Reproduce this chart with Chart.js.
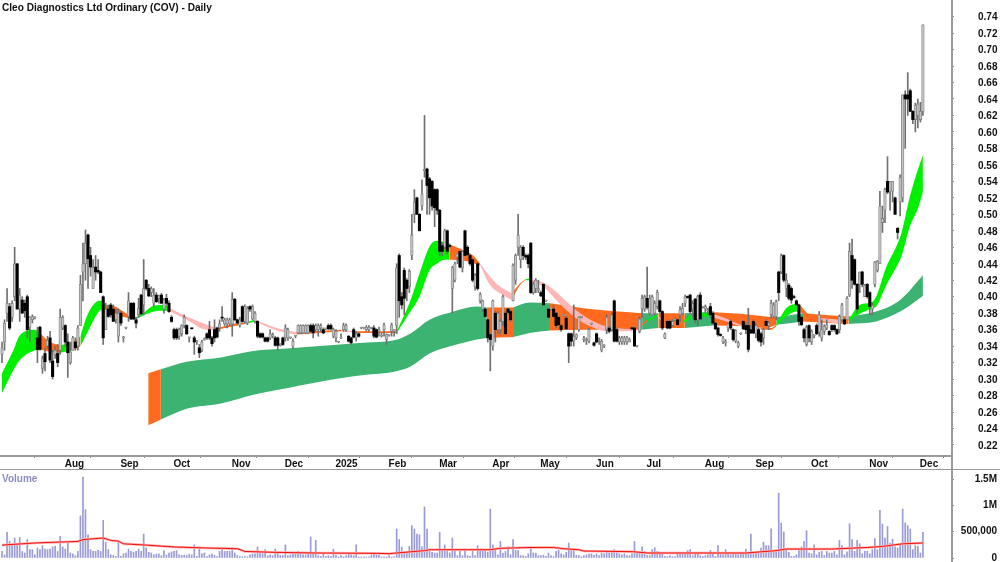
<!DOCTYPE html>
<html><head><meta charset="utf-8">
<style>
html,body{margin:0;padding:0;background:#fff;width:1000px;height:562px;overflow:hidden}
canvas{position:absolute;left:0;display:block}
.rule{position:absolute;background:#9a9a9a}
</style>
<script src="https://cdn.jsdelivr.net/npm/chart.js@4/dist/chart.umd.min.js"></script>
</head><body>
<canvas id="price" width="1000" height="470" style="top:0"></canvas>
<canvas id="vol" width="1000" height="94" style="top:470px"></canvas>
<div class="rule" style="left:951px;top:0;width:1.5px;height:562px"></div>
<div class="rule" style="left:0;top:455px;width:951px;height:1.5px"></div>
<div class="rule" style="left:0;top:468.5px;width:1000px;height:1.5px"></div>
<script>
const titleText="Cleo Diagnostics Ltd Ordinary (COV) - Daily";
const monthIdx=[24,46,67,90,111,131,152,172,193,212,234,254,277,297,319,342,362];
const monthNames=["Aug","Sep","Oct","Nov","Dec","2025","Feb","Mar","Apr","May","Jun","Jul","Aug","Sep","Oct","Nov","Dec"];
const priceTicks=[.22,.24,.26,.28,.30,.32,.34,.36,.38,.40,.42,.44,.46,.48,.50,.52,.54,.56,.58,.60,.62,.64,.66,.68,.70,.72,.74];
const volumeTicks=[0,500000,1000000,1500000];
const opens=[
.33,.345,.38,.388,.375,.40,.44,.385,.396,.392,
.40,.363,.372,.374,.35,.363,.313,.331,.34,.35,
.322,.33,.331,.335,.362,.365,.345,.32,.335,.345,
.34,.365,.43,.44,.475,.45,.41,.436,.432,.43,
.40,.36,.385,.39,.385,.372,.352,.38,.35,.362,
.376,.392,.392,.372,.378,.402,.39,.42,.41,.405,
.392,.402,.398,.402,.385,.398,.392,.375,.36,.36,
.352,.355,.365,.365,.35,.362,.35,.345,.338,.335,
.348,.355,.36,.35,.36,.362,.362,.375,.367,.367,
.367,.367,.397,.372,.365,.388,.37,.368,.388,.373,
.37,.37,.355,.355,.35,.35,.35,.352,.35,.35,
.341,.35,.35,.35,.35,.34,.352,.356,.356,.356,
.356,.356,.365,.365,.36,.36,.362,.36,.361,.365,
.365,.352,.35,.345,.35,.36,.36,.352,.35,.36,
.35,.355,.362,.362,.36,.36,.362,.362,.36,.358,
.352,.36,.348,.353,.358,.358,.365,.45,.40,.432,
.42,.412,.45,.50,.52,.50,.51,.553,.555,.543,
.54,.53,.53,.505,.462,.46,.48,.462,.41,.42,
.448,.455,.435,.48,.46,.45,.445,.412,.44,.395,
.385,.385,.372,.354,.34,.38,.36,.36,.37,.38,
.385,.382,.395,.42,.46,.445,.46,.45,.45,.465,
.405,.41,.408,.405,.415,.395,.385,.385,.385,.38,
.375,.365,.377,.374,.355,.355,.346,.35,.36,.375,
.348,.347,.346,.367,.344,.355,.348,.335,.34,.36,
.362,.36,.395,.36,.345,.345,.345,.345,.345,.362,
.362,.34,.358,.385,.385,.398,.38,.378,.38,.388,
.395,.382,.35,.37,.37,.365,.372,.372,.378,.38,
.392,.40,.402,.385,.397,.372,.402,.387,.385,.383,
.388,.38,.368,.362,.354,.345,.344,.362,.37,.36,
.346,.34,.355,.37,.365,.365,.36,.37,.355,.36,
.355,.35,.37,.365,.378,.376,.376,.43,.43,.45,
.41,.414,.41,.40,.395,.39,.375,.36,.342,.365,
.345,.352,.365,.357,.35,.358,.362,.358,.365,.365,
.36,.36,.372,.372,.372,.402,.45,.445,.415,.415,
.43,.40,.415,.405,.385,.415,.432,.44,.49,.505,
.54,.528,.528,.52,.483,.515,.52,.645,.645,.65,
.625,.615,.62,.615,.625];
const highs=[
.345,.372,.41,.392,.395,.46,.44,.41,.40,.396,
.402,.376,.378,.376,.363,.364,.328,.338,.352,.358,
.335,.34,.342,.385,.377,.366,.355,.345,.352,.35,
.365,.426,.465,.481,.476,.46,.445,.45,.445,.431,
.401,.392,.39,.392,.39,.385,.385,.382,.352,.363,
.405,.393,.393,.375,.398,.403,.445,.421,.415,.412,
.41,.405,.402,.404,.398,.403,.395,.377,.362,.362,
.362,.366,.378,.366,.351,.362,.352,.347,.342,.347,
.35,.356,.37,.352,.372,.363,.372,.388,.374,.374,
.374,.405,.398,.373,.375,.389,.39,.388,.389,.39,
.382,.371,.356,.356,.351,.351,.36,.356,.352,.351,
.343,.351,.366,.362,.351,.349,.353,.366,.366,.366,
.366,.366,.367,.367,.367,.367,.367,.362,.362,.367,
.367,.362,.36,.346,.355,.368,.367,.353,.351,.362,
.358,.356,.363,.363,.365,.365,.363,.365,.361,.363,
.356,.368,.355,.354,.368,.36,.44,.452,.405,.435,
.422,.433,.50,.53,.521,.501,.542,.62,.556,.545,
.541,.531,.531,.506,.465,.482,.481,.464,.437,.442,
.452,.456,.456,.481,.462,.451,.446,.428,.441,.405,
.396,.386,.373,.355,.396,.382,.382,.372,.402,.382,
.386,.384,.44,.452,.50,.462,.462,.452,.452,.466,
.418,.422,.42,.407,.416,.396,.386,.386,.39,.381,
.376,.366,.378,.376,.356,.356,.39,.355,.376,.376,
.352,.35,.362,.368,.345,.356,.35,.348,.342,.378,
.364,.38,.396,.362,.352,.352,.352,.352,.35,.363,
.363,.341,.376,.402,.402,.436,.402,.402,.395,.408,
.396,.383,.356,.372,.372,.372,.374,.373,.388,.392,
.402,.401,.403,.395,.398,.402,.405,.388,.39,.386,
.392,.382,.369,.363,.355,.352,.348,.368,.372,.361,
.36,.346,.356,.371,.368,.386,.365,.372,.368,.362,
.357,.362,.372,.37,.396,.393,.396,.431,.452,.451,
.428,.416,.412,.402,.396,.391,.376,.362,.365,.366,
.36,.354,.367,.382,.372,.366,.372,.359,.366,.366,
.361,.378,.392,.373,.40,.465,.47,.446,.416,.43,
.431,.415,.416,.406,.392,.443,.444,.528,.51,.532,
.57,.54,.54,.521,.484,.548,.645,.65,.672,.652,
.626,.635,.64,.636,.73];
const lows=[
.32,.335,.37,.36,.37,.395,.385,.37,.38,.375,
.35,.345,.368,.373,.32,.335,.307,.31,.337,.32,
.30,.325,.315,.33,.36,.34,.302,.318,.335,.335,
.335,.365,.395,.42,.41,.425,.41,.42,.428,.405,
.342,.36,.375,.375,.37,.368,.345,.365,.345,.361,
.37,.372,.372,.362,.375,.378,.378,.408,.40,.40,
.388,.393,.392,.392,.38,.39,.381,.369,.348,.348,
.348,.352,.362,.354,.345,.361,.33,.342,.326,.333,
.347,.348,.348,.34,.345,.35,.358,.37,.365,.362,
.365,.352,.371,.367,.363,.369,.368,.366,.382,.372,
.368,.35,.35,.35,.345,.345,.348,.35,.34,.335,
.34,.341,.346,.347,.349,.337,.35,.355,.355,.355,
.355,.355,.357,.35,.358,.352,.358,.355,.36,.36,
.36,.35,.345,.344,.349,.358,.358,.345,.342,.35,
.346,.351,.361,.361,.358,.358,.361,.35,.35,.352,
.351,.352,.342,.352,.352,.352,.355,.375,.385,.378,
.395,.405,.445,.49,.50,.48,.505,.545,.50,.50,
.505,.485,.50,.45,.45,.458,.452,.46,.38,.418,
.44,.435,.43,.45,.45,.438,.418,.408,.408,.392,
.382,.375,.345,.31,.335,.345,.355,.355,.365,.355,
.38,.37,.395,.415,.45,.435,.445,.445,.435,.404,
.403,.405,.405,.40,.39,.394,.375,.384,.375,.362,
.365,.358,.376,.36,.32,.34,.34,.348,.358,.374,
.345,.342,.344,.366,.34,.344,.342,.333,.338,.355,
.356,.358,.345,.345,.342,.342,.342,.342,.345,.36,
.34,.339,.356,.375,.382,.385,.378,.378,.378,.385,
.38,.36,.349,.361,.361,.364,.371,.365,.37,.378,
.388,.398,.38,.375,.368,.365,.372,.386,.38,.378,
.375,.366,.36,.352,.352,.343,.34,.358,.36,.346,
.344,.338,.354,.36,.355,.333,.355,.355,.35,.345,
.34,.342,.365,.36,.374,.374,.372,.395,.428,.418,
.40,.396,.392,.398,.39,.365,.365,.345,.34,.345,
.342,.35,.354,.352,.346,.354,.36,.353,.358,.358,
.354,.356,.37,.366,.372,.40,.41,.414,.38,.405,
.412,.40,.398,.378,.378,.412,.43,.44,.478,.49,
.525,.505,.515,.50,.47,.498,.515,.58,.62,.625,
.61,.60,.605,.612,.62];
const closes=[
.338,.368,.392,.362,.392,.44,.385,.402,.38,.383,
.36,.375,.376,.375,.336,.336,.325,.321,.347,.323,
.303,.335,.32,.375,.375,.345,.332,.333,.35,.338,
.362,.415,.44,.465,.446,.436,.435,.43,.43,.405,
.35,.385,.376,.378,.37,.38,.38,.368,.35,.362,
.395,.373,.373,.368,.386,.379,.41,.41,.401,.41,
.402,.394,.401,.392,.396,.392,.382,.37,.35,.35,
.36,.365,.375,.355,.35,.361,.345,.345,.332,.345,
.349,.35,.35,.343,.35,.351,.367,.374,.372,.372,
.372,.397,.372,.368,.372,.37,.388,.386,.385,.388,
.38,.352,.351,.351,.346,.346,.355,.354,.341,.341,
.342,.342,.362,.36,.35,.346,.352,.365,.365,.365,
.365,.365,.358,.356,.365,.365,.365,.356,.361,.361,
.361,.36,.358,.345,.35,.365,.365,.346,.344,.351,
.355,.352,.362,.362,.363,.363,.362,.352,.351,.36,
.352,.366,.354,.353,.366,.36,.435,.395,.39,.398,
.41,.431,.475,.515,.50,.48,.525,.555,.535,.52,
.51,.508,.505,.455,.455,.48,.455,.461,.435,.44,
.452,.436,.455,.45,.451,.44,.42,.426,.41,.403,
.395,.376,.35,.348,.395,.36,.38,.37,.40,.355,
.381,.372,.438,.45,.475,.46,.45,.448,.44,.405,
.415,.42,.41,.401,.39,.395,.375,.385,.376,.365,
.366,.36,.377,.361,.34,.346,.352,.354,.375,.375,
.35,.347,.36,.367,.341,.345,.348,.346,.341,.375,
.358,.378,.346,.346,.35,.35,.35,.35,.348,.361,
.34,.34,.373,.398,.40,.387,.398,.40,.392,.405,
.382,.362,.355,.362,.362,.37,.372,.366,.384,.386,
.40,.399,.382,.392,.372,.40,.373,.387,.388,.384,
.378,.368,.361,.354,.353,.35,.344,.367,.362,.348,
.359,.344,.355,.361,.36,.336,.356,.356,.365,.347,
.345,.36,.365,.368,.392,.39,.394,.405,.45,.42,
.42,.398,.396,.399,.39,.37,.366,.35,.363,.35,
.358,.352,.355,.378,.36,.364,.366,.354,.36,.36,
.355,.376,.39,.367,.398,.455,.42,.415,.385,.43,
.415,.414,.40,.388,.39,.442,.443,.51,.495,.53,
.527,.54,.54,.50,.478,.545,.645,.64,.64,.625,
.615,.632,.634,.625,.73];
const volumeK=[
125,60,490,315,250,380,270,390,125,95,
350,160,160,60,190,160,235,170,160,170,
210,220,125,410,210,170,300,95,80,45,
125,800,1540,920,440,160,125,125,145,125,
715,300,160,60,50,30,300,30,80,95,
170,125,110,125,170,125,455,190,110,95,
60,75,80,45,140,60,95,115,125,140,
60,50,50,45,75,60,250,30,210,80,
95,25,60,75,50,25,125,160,125,125,
125,190,95,45,25,20,25,20,60,75,
80,210,110,80,160,45,60,45,170,125,
50,45,250,45,60,80,75,125,80,60,
60,80,400,80,335,45,30,95,30,45,
30,170,50,20,45,25,45,95,60,45,
250,20,20,20,20,20,60,80,60,55,
20,20,20,45,20,20,550,350,210,125,
115,220,615,550,455,440,210,970,550,160,
110,95,95,490,160,250,125,95,380,125,
45,160,45,170,45,30,125,45,235,170,
160,125,110,930,250,170,60,315,95,125,
210,60,350,145,140,45,45,30,80,190,
95,95,45,45,55,30,95,45,25,125,
145,80,60,110,285,160,140,50,45,25,
45,60,75,80,50,75,45,95,80,110,
95,140,160,95,80,60,80,45,45,80,
315,95,110,210,125,45,45,160,195,125,
110,95,30,25,45,25,25,80,80,80,
95,140,160,45,80,110,45,30,45,60,
145,95,30,235,95,60,160,95,60,110,
80,60,75,75,170,95,455,125,115,125,
190,300,235,235,555,125,160,1235,665,495,
160,110,30,30,60,140,210,315,520,95,
80,250,60,110,125,45,125,95,95,125,
60,335,235,60,115,650,350,125,335,270,
80,130,130,80,160,370,160,905,645,380,
600,285,360,210,190,250,930,665,615,550,
160,235,220,95,490];
const maX=[0,13,19,30,32,40,43,46,48,57,68,81,93,96,108,124,148,153,156,167,169,193,197,208.7,218,222,228,230,249.5,255,278.5,294,306,310,328,342,348,356,364];
const maK=[245,285,297,315,350,380,335,320,270,245,210,190,177,125,107,95,88,82,95,140,158,158,184,200,200,177,158,133,120,95,95,95,140,170,170,200,220,270,285];
const fastX=[0,4.5,7,13,15,19,23,28,31,33.5,37.4,39,41,44.7,50,53,55,60,64.4,66.4,73,81,85,91.4,96,100,108.6,116.3,134,140,156,161,165,169,171.8,175,177,182,186.2,189,193,197,201.5,204.7,206.7,208.4,214,219,226,232.5,239,250,255,259,261,269,275,280,285,292,300,304,306,310,314,315.5,319,323,331,334.6,339,344,345.5,349.5,353.5,355.5,358.8,362,364];
const fastTop=[.307,.335,.353,.36,.356,.345,.341,.345,.352,.376,.394,.395,.39,.388,.378,.375,.378,.389,.39,.386,.376,.366,.362,.367,.369,.372,.362,.357,.36,.358,.358,.392,.428,.461,.468,.466,.463,.457,.45,.44,.424,.412,.404,.416,.421,.422,.417,.406,.386,.372,.364,.36,.372,.378,.372,.37,.381,.38,.375,.366,.362,.362,.366,.386,.391,.39,.378,.374,.372,.372,.39,.394,.40,.436,.461,.477,.521,.554,.572];
const fastBot=[.283,.311,.323,.335,.336,.333,.332,.335,.34,.355,.378,.384,.38,.378,.374,.373,.376,.382,.383,.382,.372,.36,.36,.364,.367,.37,.359,.354,.358,.356,.356,.38,.40,.432,.44,.445,.445,.444,.441,.438,.414,.404,.396,.414,.42,.42,.412,.396,.376,.364,.358,.358,.37,.376,.37,.368,.376,.376,.371,.364,.36,.36,.364,.376,.382,.381,.376,.371,.367,.37,.379,.386,.388,.414,.436,.449,.485,.507,.527];
const fastCode="GGGGOOGOGGGGOOOGGGGPPPOOGPPOPOGGGGGGOOOPPPOOGPPPPPPOGPOGGPPPOOGGGOOPOGGGGGGGGGG";
const slowX=[57.8,62.8,73,86,99.3,112.5,133.6,143,155,161.3,169,178.5,187.6,191.6,202,208.6,216.6,229.8,248,253,259.4,269.9,281,293,302,306,316.6,334.6,345.5,355,364];
const slowTop=[.307,.312,.321,.326,.334,.337,.342,.344,.347,.355,.372,.382,.388,.387,.387,.393,.392,.386,.381,.38,.38,.38,.381,.379,.376,.375,.38,.376,.382,.396,.426];
const slowBot=[.244,.251,.264,.27,.281,.289,.301,.305,.309,.315,.331,.341,.348,.35,.351,.356,.359,.36,.36,.36,.362,.362,.365,.364,.362,.366,.37,.367,.37,.382,.401];
const slowCode="OGGGGGGGGGGGGOGGOOOGOGOOOGOGGGG";

const PALETTE={G:'#00f000',O:'#ff6a1f',P:'#ffb6b6',S:'#3cb371'};
const FONT={family:'"Liberation Sans",Arial,sans-serif',size:10,weight:'bold'};

function bandSets(xs,top,bot,codes,map,order){
  const out=[];let s=0;
  for(let k=1;k<xs.length;k++){
    if(k===xs.length-1||codes[k]!==codes[s]){
      const c=map(codes[s]);
      const up=[],dn=[];
      for(let j=s;j<=k;j++){up.push({x:xs[j],y:top[j]});dn.push({x:xs[j],y:bot[j]});}
      out.push({type:'line',data:up,borderWidth:0,pointRadius:0,backgroundColor:c,fill:'+1',order:order,cubicInterpolationMode:'monotone'});
      out.push({type:'line',data:dn,borderWidth:0,pointRadius:0,fill:false,order:order,cubicInterpolationMode:'monotone'});
      s=k;
    }
  }
  return out;
}
const xMax=(951-2)/2.53;
const wicks=highs.map((h,i)=>({x:i,y:[lows[i],h]}));
const upBodies=[],dnBodies=[];
opens.forEach((o,i)=>{(closes[i]>=o?upBodies:dnBodies).push({x:i,y:[o,closes[i]]});});

new Chart(document.getElementById('price'),{
  type:'bar',
  data:{datasets:[
    ...bandSets(slowX,slowTop,slowBot,slowCode,c=>c==='G'?PALETTE.S:PALETTE.O,9),
    ...bandSets(fastX,fastTop,fastBot,fastCode,c=>PALETTE[c],8),
    {type:'bar',data:wicks,barThickness:1,backgroundColor:'#707070',grouped:false,order:3,clip:false},
    {type:'bar',data:upBodies,barThickness:2.6,backgroundColor:'#c4c4c4',borderColor:'#808080',borderWidth:0.8,borderSkipped:false,grouped:false,order:2,minBarLength:1,clip:false},
    {type:'bar',data:dnBodies,barThickness:2.4,backgroundColor:'#000000',grouped:false,order:1,minBarLength:1,clip:false}
  ]},
  options:{
    responsive:false,animation:false,events:[],
    layout:{padding:{left:2,right:0,top:0,bottom:0}},
    plugins:{
      legend:{display:false},tooltip:{enabled:false},
      title:{display:true,text:titleText,align:'start',color:'#111',font:{...FONT,size:10.1},padding:{top:2,bottom:-14}}
    },
    scales:{
      x:{type:'linear',min:0,max:xMax,offset:false,
        grid:{drawOnChartArea:false,drawTicks:true,tickLength:3,color:'#888'},border:{display:false},
        afterBuildTicks:s=>{s.ticks=monthIdx.map(v=>({value:v}));},
        afterFit:s=>{s.height=15;s.paddingLeft=0;s.paddingRight=0;},
        ticks:{autoSkip:false,maxRotation:0,align:'start',labelOffset:2,padding:0,color:'#111',font:FONT,
          callback:v=>monthNames[monthIdx.indexOf(v)]}},
      y:{position:'right',min:.74-(455-16.5)/824,max:.74+16.5/824,
        grid:{drawOnChartArea:false,tickLength:3,color:'#888'},border:{display:false},
        afterBuildTicks:s=>{s.ticks=priceTicks.map(v=>({value:v}));},
        afterFit:s=>{s.width=49;s.paddingTop=0;s.paddingBottom=0;},
        ticks:{autoSkip:false,padding:24,labelOffset:1,color:'#111',font:FONT,callback:v=>v.toFixed(2)}}
    }
  }
});

const volBars=volumeK.map((v,i)=>({x:i,y:v*1000}));
const maLine=maX.map((x,i)=>({x:x,y:maK[i]*1000}));
const volLabel=(v)=>v===0?'0':v===500000?'500,000':v===1000000?'1M':'1.5M';
new Chart(document.getElementById('vol'),{
  type:'bar',
  data:{datasets:[
    {type:'bar',data:volBars,barThickness:1,backgroundColor:'#9a9ad6',grouped:false,order:3,clip:false},
    {type:'line',data:maLine,borderColor:'#ffb0b0',borderWidth:2.5,pointRadius:0,tension:0,order:2},
    {type:'line',data:maLine,borderColor:'#f01010',borderWidth:1,pointRadius:0,tension:0,order:1}
  ]},
  options:{
    responsive:false,animation:false,events:[],
    layout:{padding:{left:2,right:3,top:0,bottom:6}},
    plugins:{legend:{display:false},tooltip:{enabled:false},
      title:{display:true,text:'Volume',align:'start',color:'#8c8cc8',font:FONT,padding:{top:3,bottom:-15}}},
    scales:{
      x:{type:'linear',min:0,max:xMax,display:false,offset:false},
      y:{position:'right',min:0,max:88/26.3*500000,
        grid:{drawOnChartArea:false,tickLength:3,color:'#888'},border:{display:false},
        afterBuildTicks:s=>{s.ticks=volumeTicks.map(v=>({value:v}));},
        afterFit:s=>{s.width=46;s.paddingTop=0;s.paddingBottom=0;},
        ticks:{autoSkip:false,padding:4,crossAlign:'far',color:'#111',font:FONT,callback:volLabel}}
    }
  }
});
</script>
</body></html>
